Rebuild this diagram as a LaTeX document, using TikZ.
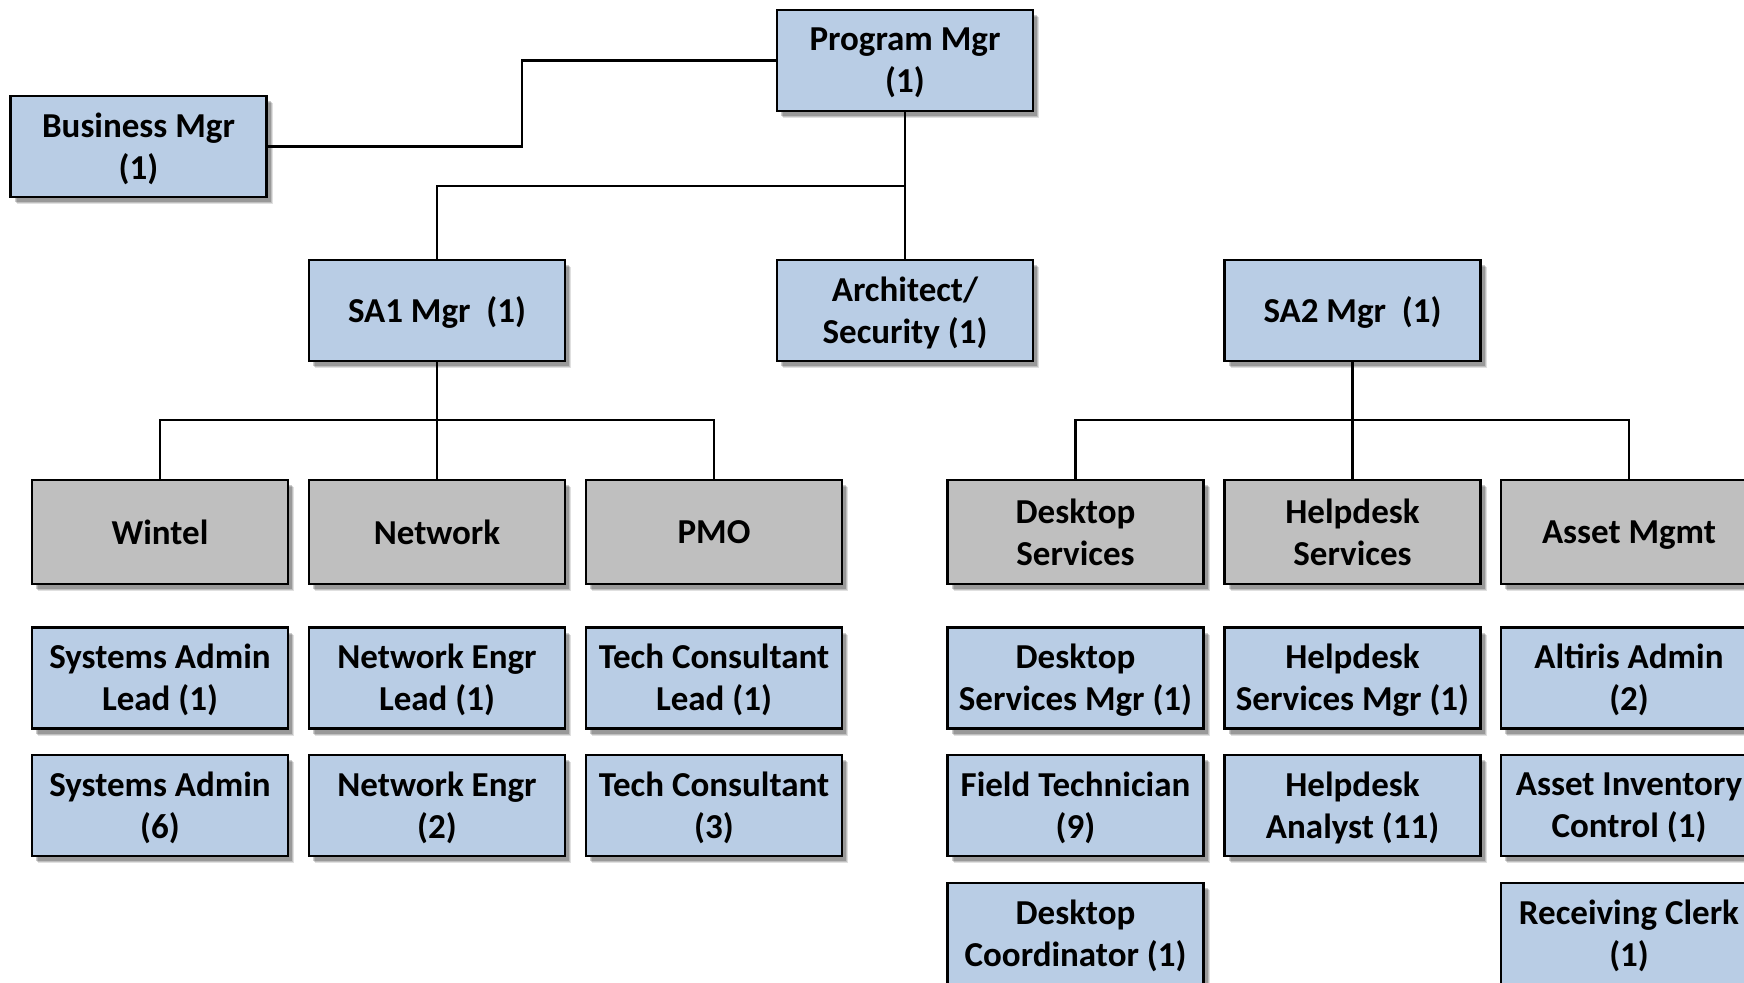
\documentclass[tikz,border=0pt]{standalone}
\usepackage{fontspec}
\setmainfont{Carlito}
\usetikzlibrary{shadows}
\definecolor{boxblue}{HTML}{B9CDE5}
\definecolor{boxgray}{HTML}{BFBFBF}
\tikzset{
  sh/.style={
    drop shadow={shadow xshift=6pt,shadow yshift=-7pt,opacity=0.12,fill=black},
    drop shadow={shadow xshift=5pt,shadow yshift=-6pt,opacity=0.15,fill=black},
    drop shadow={shadow xshift=4pt,shadow yshift=-5pt,opacity=0.2,fill=black}},
  basebox/.style={sh,draw=black,line width=2.6pt,minimum width=256pt,minimum height=101pt,
    inner sep=0pt},
  bluebox/.style={basebox,fill=boxblue},
  graybox/.style={basebox,fill=boxgray,minimum height=104pt},
  txt/.style={inner sep=0pt,align=center,font=\fontsize{35}{42}\selectfont\bfseries,text=black},
  conn/.style={draw=black,line width=2.2pt}
}
\begin{document}
\begin{tikzpicture}[x=1pt,y=-1pt]
\useasboundingbox (0,0) rectangle (1744,982);
% top
\node[bluebox] (pm) at (905,60.5) {};
\node[bluebox] (bm) at (138.5,146.5) {};
\node[bluebox] (sa1) at (437,310.5) {};
\node[bluebox] (arch) at (905,310.5) {};
\node[bluebox] (sa2) at (1352.5,310.5) {};
% departments
\node[graybox] (wintel) at (160,532) {};
\node[graybox] (network) at (437,532) {};
\node[graybox] (pmo) at (714,532) {};
\node[graybox] (desk) at (1075.5,532) {};
\node[graybox] (help) at (1352.5,532) {};
\node[graybox] (asset) at (1629,532) {};
% row 4
\node[bluebox] (r4a) at (160,678) {};
\node[bluebox] (r4b) at (437,678) {};
\node[bluebox] (r4c) at (714,678) {};
\node[bluebox] (r4d) at (1075.5,678) {};
\node[bluebox] (r4e) at (1352.5,678) {};
\node[bluebox] (r4f) at (1629,678) {};
% row 5
\node[bluebox] (r5a) at (160,805.5) {};
\node[bluebox] (r5b) at (437,805.5) {};
\node[bluebox] (r5c) at (714,805.5) {};
\node[bluebox] (r5d) at (1075.5,805.5) {};
\node[bluebox] (r5e) at (1352.5,805.5) {};
\node[bluebox] (r5f) at (1629,805.5) {};
% row 6
\node[bluebox] (r6d) at (1075.5,933.5) {};
\node[bluebox] (r6f) at (1629,933.5) {};
% texts
\node[txt] (pm-t) at ([yshift=-2.3pt]pm.center) {Program Mgr\\(1)};
\node[txt] (bm-t) at ([yshift=-2.3pt]bm.center) {Business Mgr\\(1)};
\node[txt] (sa1-t) at ([yshift=-2pt]sa1.center) {SA1 Mgr~ (1)};
\node[txt] (arch-t) at ([yshift=-2.3pt]arch.center) {Architect/\\Security (1)};
\node[txt] (sa2-t) at ([yshift=-2pt]sa2.center) {SA2 Mgr~ (1)};
\node[txt] (wintel-t) at (wintel.center) {Wintel};
\node[txt] (network-t) at (network.center) {Network};
\node[txt] (pmo-t) at (pmo.center) {PMO};
\node[txt] (desk-t) at (desk.center) {Desktop\\Services};
\node[txt] (help-t) at (help.center) {Helpdesk\\Services};
\node[txt] (asset-t) at ([yshift=-3.3pt]asset.center) {Asset Mgmt};
\node[txt] (r4a-t) at ([yshift=-1.8pt]r4a.center) {Systems Admin\\Lead (1)};
\node[txt] (r4b-t) at ([yshift=-1.8pt]r4b.center) {Network Engr\\Lead (1)};
\node[txt] (r4c-t) at ([yshift=-1.8pt]r4c.center) {Tech Consultant\\Lead (1)};
\node[txt] (r4d-t) at ([yshift=-1.8pt]r4d.center) {Desktop\\Services Mgr (1)};
\node[txt] (r4e-t) at ([yshift=-1.8pt]r4e.center) {Helpdesk\\Services Mgr (1)};
\node[txt] (r4f-t) at ([yshift=-1.8pt]r4f.center) {Altiris Admin\\(2)};
\node[txt] (r5a-t) at ([yshift=-2.3pt]r5a.center) {Systems Admin\\(6)};
\node[txt] (r5b-t) at ([yshift=-2.3pt]r5b.center) {Network Engr\\(2)};
\node[txt] (r5c-t) at ([yshift=-2.3pt]r5c.center) {Tech Consultant\\(3)};
\node[txt] (r5d-t) at ([yshift=-2.3pt]r5d.center) {Field Technician\\(9)};
\node[txt] (r5e-t) at ([yshift=-2.3pt]r5e.center) {Helpdesk\\Analyst (11)};
\node[txt] (r5f-t) at ([yshift=-2.3pt]r5f.center) {Asset Inventory\\Control (1)};
\node[txt] (r6d-t) at ([yshift=-2.3pt]r6d.center) {Desktop\\Coordinator (1)};
\node[txt] (r6f-t) at ([yshift=-2.3pt]r6f.center) {Receiving Clerk\\(1)};
% connectors
\coordinate (bmj) at (522,146.5);
\coordinate (bar1) at (905,186);
\coordinate (bar2) at (437,420);
\coordinate (bar3) at (1352.5,420);
\draw[conn] (bm.east) -- (bmj) |- (pm.west);
\draw[conn] (pm.south) -- (arch.north);
\draw[conn] (bar1) -| (sa1.north);
\draw[conn] (sa1.south) -- (network.north);
\draw[conn] (wintel.north) |- (bar2) -| (pmo.north);
\draw[conn] (sa2.south) -- (help.north);
\draw[conn] (desk.north) |- (bar3) -| (asset.north);
\end{tikzpicture}
\end{document}
